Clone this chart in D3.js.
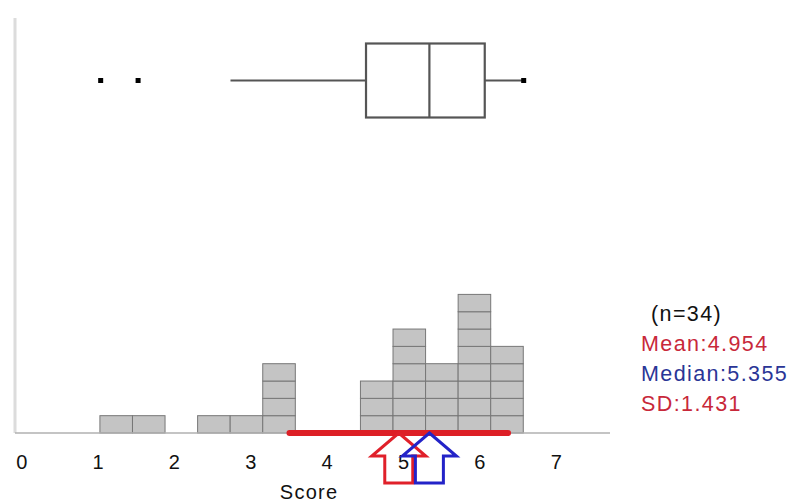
<!DOCTYPE html>
<html>
<head>
<meta charset="utf-8">
<script src="https://cdn.jsdelivr.net/npm/d3@7"></script>
<style>
  html, body { margin: 0; padding: 0; background: #fff; }
  svg { display: block; }
  text { font-family: "Liberation Sans", Arial, Helvetica, sans-serif; }
</style>
</head>
<body>
<svg id="chart" width="795" height="504"></svg>
<script>
// ---- data ----
const tickValues = [0, 1, 2, 3, 4, 5, 6, 7];
const axisTitle = "Score";
const binStart = 1.04;
const binWidth = 0.4265;
const binCounts = [1, 1, 0, 1, 1, 4, 0, 0, 3, 6, 4, 8, 5];
const boxStats = [2.75, 4.525, 5.355, 6.08, 6.59]; // whisker low, Q1, median, Q3, whisker high
const boxPoints = [1.05, 1.54, 6.59];
const n = 34;
const mean = 4.954;
const median = 5.355;
const sd = 1.431;
const legendLabels = ["(n=34)", "Mean:4.954", "Median:5.355", "SD:1.431"];

// ---- layout ----
const svg = d3.select("#chart");
const x = d3.scaleLinear().domain([0, 7]).range([20.5, 555]);
const y = d3.scaleLinear().domain([0, 8]).range([433, 294.4]);
const baseY = y(0);

// left vertical line
svg.append("line").attr("x1", 15).attr("x2", 15).attr("y1", 18).attr("y2", baseY)
  .attr("stroke", "#dcdcdc").attr("stroke-width", 3);

// histogram cells
const cells = [];
binCounts.forEach((c, i) => {
  for (let k = 0; k < c; k++) cells.push({ bin: i, k: k });
});
const bw = x(binWidth) - x(0);
svg.append("g").selectAll("rect").data(cells).join("rect")
  .attr("x", d => x(binStart + d.bin * binWidth))
  .attr("y", d => y(d.k + 1))
  .attr("width", bw)
  .attr("height", y(0) - y(1))
  .attr("fill", "#c4c4c4")
  .attr("stroke", "#777")
  .attr("stroke-width", 1);

// baseline
svg.append("line").attr("x1", 15).attr("x2", 610).attr("y1", baseY).attr("y2", baseY)
  .attr("stroke", "#b0b0b0").attr("stroke-width", 1.5);

// x axis
const axis = d3.axisBottom(x).tickValues(tickValues).tickSize(0).tickPadding(0)
  .tickFormat(d3.format("d"));
const gAxis = svg.append("g").attr("transform", `translate(0,469)`).call(axis);
gAxis.select(".domain").remove();
gAxis.selectAll("text").attr("y", 0).attr("dy", 0).attr("dx", 0.7)
  .attr("font-size", 20).attr("fill", "#111")
  .attr("font-family", "'Liberation Sans', Arial, sans-serif");

svg.append("text").attr("x", x(3.78)).attr("y", 499).attr("text-anchor", "middle")
  .attr("font-size", 20).attr("letter-spacing", 1.3).attr("fill", "#111").text(axisTitle);

// SD line
svg.append("line")
  .attr("x1", x(mean - sd)).attr("x2", x(mean + sd))
  .attr("y1", baseY).attr("y2", baseY)
  .attr("stroke", "#dd1f26").attr("stroke-width", 6).attr("stroke-linecap", "round");

// arrows
function arrowPath(cx) {
  const t = baseY, h = baseY + 23, b = baseY + 50;
  return `M${cx},${t} L${cx + 27},${h} L${cx + 14},${h} L${cx + 14},${b} L${cx - 14},${b} L${cx - 14},${h} L${cx - 27},${h} Z`;
}
svg.append("path").attr("d", arrowPath(x(mean))).attr("fill", "none")
  .attr("stroke", "#e0202a").attr("stroke-width", 3).attr("stroke-linejoin", "miter");
svg.append("path").attr("d", arrowPath(x(median))).attr("fill", "none")
  .attr("stroke", "#2323c8").attr("stroke-width", 3).attr("stroke-linejoin", "miter");

// box plot
const by = 80.5, bh = 74;
const [wLo, q1, med, q3, wHi] = boxStats;
svg.append("line").attr("x1", x(wLo)).attr("x2", x(q1)).attr("y1", by).attr("y2", by)
  .attr("stroke", "#555").attr("stroke-width", 2.2);
svg.append("line").attr("x1", x(q3)).attr("x2", x(wHi)).attr("y1", by).attr("y2", by)
  .attr("stroke", "#555").attr("stroke-width", 2.2);
svg.append("rect").attr("x", x(q1)).attr("y", by - bh / 2).attr("width", x(q3) - x(q1)).attr("height", bh)
  .attr("fill", "#fff").attr("stroke", "#555").attr("stroke-width", 2.2);
svg.append("line").attr("x1", x(med)).attr("x2", x(med)).attr("y1", by - bh / 2).attr("y2", by + bh / 2)
  .attr("stroke", "#555").attr("stroke-width", 2.2);
svg.append("g").selectAll("rect").data(boxPoints).join("rect")
  .attr("x", d => x(d) - 2.5).attr("y", by - 2.5).attr("width", 5).attr("height", 5)
  .attr("fill", "#000");

// legend
const legendColors = ["#111", "#c8283a", "#2a3596", "#c8283a"];
const legendX = [651, 641, 641, 641];
const legendY = [321, 351, 381, 411];
svg.append("g").selectAll("text").data(legendLabels).join("text")
  .attr("x", (d, i) => legendX[i]).attr("y", (d, i) => legendY[i])
  .attr("font-size", 21.5).attr("letter-spacing", 1.4)
  .attr("fill", (d, i) => legendColors[i]).text(d => d);
</script>
</body>
</html>
